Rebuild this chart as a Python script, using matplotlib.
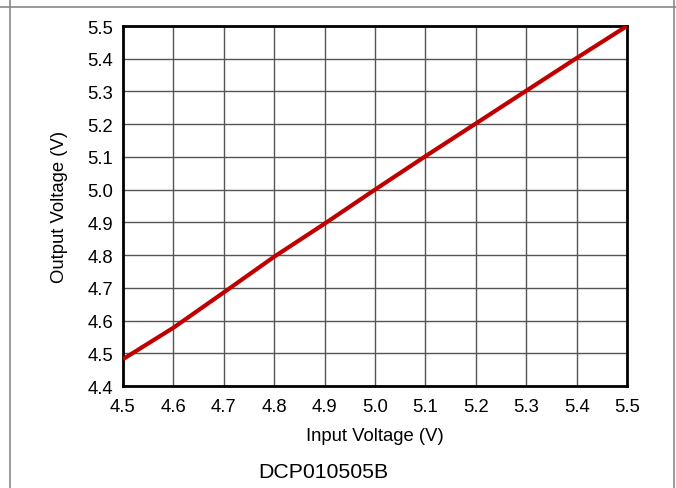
import matplotlib
matplotlib.use("Agg")
import matplotlib.pyplot as plt
from matplotlib.lines import Line2D

plt.rcParams["font.family"] = ["Liberation Sans", "DejaVu Sans"]

# values
vin = [4.5, 4.6, 4.7, 4.8, 4.9, 5.0, 5.1, 5.2, 5.3, 5.4, 5.5]
vout = [4.482, 4.578, 4.686, 4.795, 4.896, 5.0, 5.102, 5.202, 5.302, 5.402, 5.5]
xticks = [4.5, 4.6, 4.7, 4.8, 4.9, 5.0, 5.1, 5.2, 5.3, 5.4, 5.5]
yticks = [4.4, 4.5, 4.6, 4.7, 4.8, 4.9, 5.0, 5.1, 5.2, 5.3, 5.4, 5.5]

W, H = 676, 489
fig = plt.figure(figsize=(W / 100, H / 100), dpi=100)
ax = fig.add_axes([123 / W, 1 - 387 / H, (627 - 123) / W, (387 - 27) / H])

ax.plot(vin, vout, color="#c00000", lw=3, solid_capstyle="butt", zorder=3)
ax.set_xlim(4.5, 5.5)
ax.set_ylim(4.4, 5.5)
ax.set_xticks(xticks)
ax.set_yticks(yticks)
ax.set_xticklabels([f"{t:.1f}" for t in xticks])
ax.set_yticklabels([f"{t:.1f}" for t in yticks])
ax.tick_params(length=0, labelsize=13.3)
ax.tick_params(axis="x", pad=9)
ax.tick_params(axis="y", pad=7)
ax.grid(True, color="#555555", lw=1)
for s in ax.spines.values():
    s.set_linewidth(2)
    s.set_color("black")
ax.set_xlabel("Input Voltage (V)", fontsize=13.3, labelpad=8)
ax.set_ylabel("Output Voltage (V)", fontsize=13.3, labelpad=14)

fig.text(323 / W, 1 - 473 / H, "DCP010505B", fontsize=15.3,
         ha="center", va="center")

# outer frame
fr = "#888888"
fig.add_artist(Line2D([0, 1], [1 - 8 / H, 1 - 8 / H], color=fr, lw=1.2))
fig.add_artist(Line2D([10 / W, 10 / W], [0, 1], color=fr, lw=1.2))
fig.add_artist(Line2D([674 / W, 674 / W], [0, 1], color=fr, lw=1.2))

fig.savefig("out.png", dpi=100)
